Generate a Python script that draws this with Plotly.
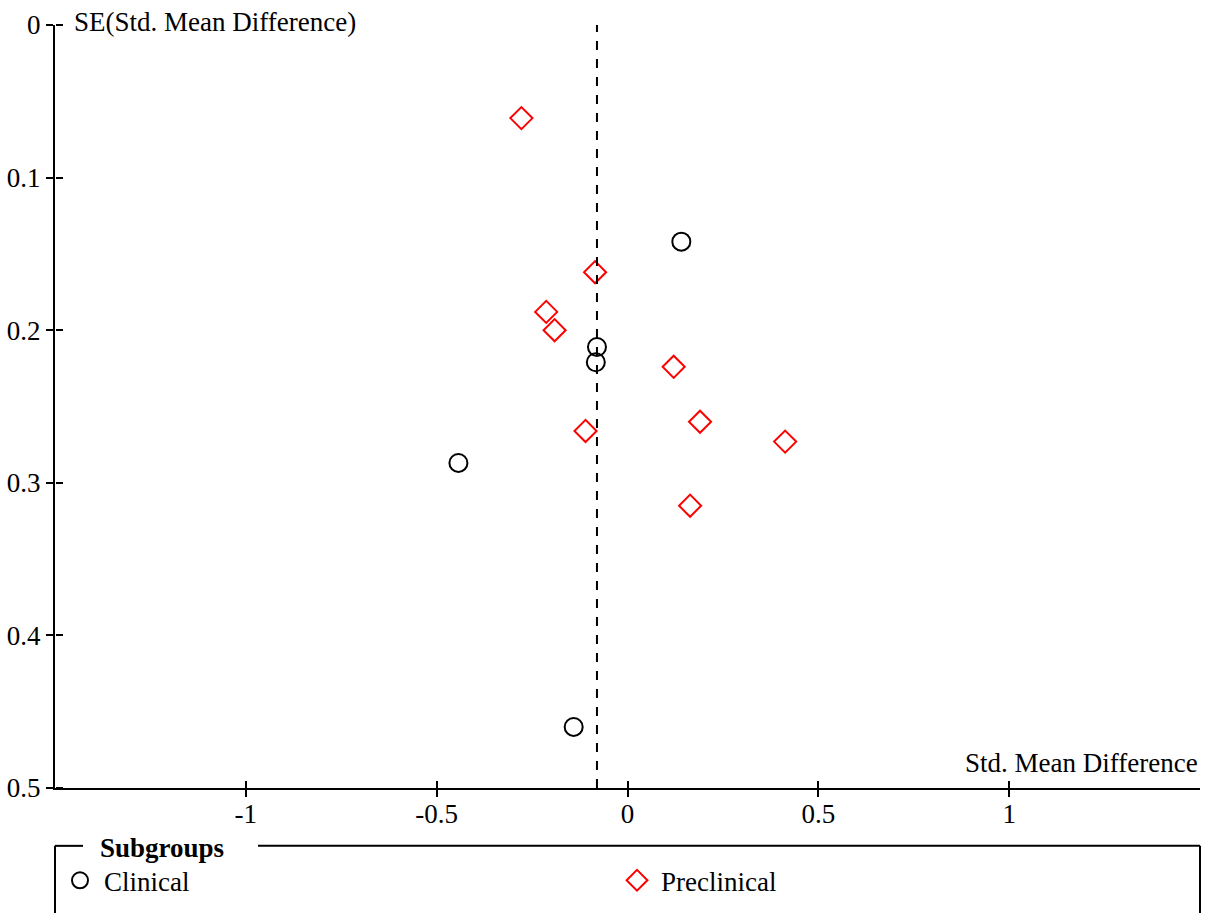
import plotly.graph_objects as go

# Funnel plot data: standardised mean difference vs its standard error
clinical_smd = [0.141, -0.080, -0.083, -0.443, -0.141]
clinical_se = [0.142, 0.211, 0.221, 0.287, 0.460]

preclinical_smd = [-0.278, -0.085, -0.213, -0.191, 0.121, -0.110, 0.190, 0.413, 0.164]
preclinical_se = [0.061, 0.162, 0.188, 0.200, 0.224, 0.266, 0.260, 0.273, 0.315]

pooled_smd = -0.08
se_span = [0.5, 0.0]

x_tickvals = [-1, -0.5, 0, 0.5, 1]
x_ticktext = ["-1", "-0.5", "0", "0.5", "1"]
y_tickvals = [0, 0.1, 0.2, 0.3, 0.4, 0.5]
y_ticktext = ["0", "0.1", "0.2", "0.3", "0.4", "0.5"]

FONT = dict(family="Liberation Serif", size=27, color="black")
W, H = 1208, 913
ML, MR, MT, MB = 55, 8, 25, 123
PW, PH = W - ML - MR, H - MT - MB


def px_x(px):
    return (px - ML) / PW


def px_y(py):
    return (H - MB - py) / PH


fig = go.Figure()

# Pooled estimate, drawn on the overlay axes (which carry the inward ticks)
fig.add_trace(go.Scatter(
    x=[pooled_smd, pooled_smd], y=se_span, mode="lines",
    line=dict(color="black", width=2, dash="9px,9px"),
    showlegend=False, hoverinfo="skip", xaxis="x2", yaxis="y2",
))
fig.add_trace(go.Scatter(
    x=clinical_smd, y=clinical_se, mode="markers", name="Clinical",
    marker=dict(symbol="circle-open", size=18, color="black", line=dict(width=2)),
    legend="legend",
))
fig.add_trace(go.Scatter(
    x=preclinical_smd, y=preclinical_se, mode="markers", name="Preclinical",
    marker=dict(symbol="diamond-open", size=17, color="red", line=dict(width=2)),
    legend="legend2",
))

axis_common = dict(
    showline=True, linecolor="black", linewidth=2,
    ticks="outside", ticklen=7, tickwidth=2, tickcolor="black",
    tickfont=FONT, showgrid=False, zeroline=False,
)
# Second pair of axes sits on the same lines but faces the plot interior,
# so each tick mark crosses its axis line.
inner_ticks = dict(
    ticks="outside", ticklen=7, tickwidth=2, tickcolor="black",
    showticklabels=False, showline=False, showgrid=False, zeroline=False,
    anchor="free", position=0,
)

fig.update_layout(
    width=W, height=H,
    margin=dict(l=ML, r=MR, t=MT, b=MB),
    paper_bgcolor="white", plot_bgcolor="white",
    font=FONT,
    xaxis=dict(range=[-1.5, 1.5], tickvals=x_tickvals, ticktext=x_ticktext,
               ticklabelstandoff=-6, **axis_common),
    yaxis=dict(range=[0.5, 0], tickvals=y_tickvals, ticktext=y_ticktext, **axis_common),
    xaxis2=dict(range=[-1.5, 1.5], tickvals=x_tickvals, overlaying="x", side="top", **inner_ticks),
    yaxis2=dict(range=[0.5, 0], tickvals=y_tickvals, overlaying="y", side="right", **inner_ticks),
    legend=dict(x=px_x(56), y=px_y(883), xanchor="left", yanchor="middle",
                orientation="h", font=FONT, bgcolor="rgba(0,0,0,0)", itemwidth=38),
    legend2=dict(x=px_x(613), y=px_y(883), xanchor="left", yanchor="middle",
                 orientation="h", font=FONT, bgcolor="rgba(0,0,0,0)", itemwidth=38),
    showlegend=True,
)

# Legend frame with a gap in the top edge for its heading
box_top = px_y(848)
frame = dict(type="line", xref="paper", yref="paper", line=dict(color="black", width=2))
fig.add_shape(x0=0, x1=0, y0=box_top, y1=-0.4, **frame)
fig.add_shape(x0=1, x1=1, y0=box_top, y1=-0.4, **frame)
fig.add_shape(x0=0, x1=px_x(83), y0=box_top, y1=box_top, **frame)
fig.add_shape(x0=px_x(258), x1=1, y0=box_top, y1=box_top, **frame)

fig.add_annotation(text="<b>Subgroups</b>", xref="paper", yref="paper",
                   x=px_x(98), y=px_y(850), xanchor="left", yanchor="middle",
                   showarrow=False, font=FONT)
fig.add_annotation(text="SE(Std. Mean Difference)", xref="paper", yref="paper",
                   x=px_x(72), y=px_y(22), xanchor="left", yanchor="middle",
                   showarrow=False, font=FONT)
fig.add_annotation(text="Std. Mean Difference", xref="paper", yref="paper",
                   x=1, y=px_y(765), xanchor="right", yanchor="middle",
                   showarrow=False, font=FONT)

fig.write_html("out.html")
